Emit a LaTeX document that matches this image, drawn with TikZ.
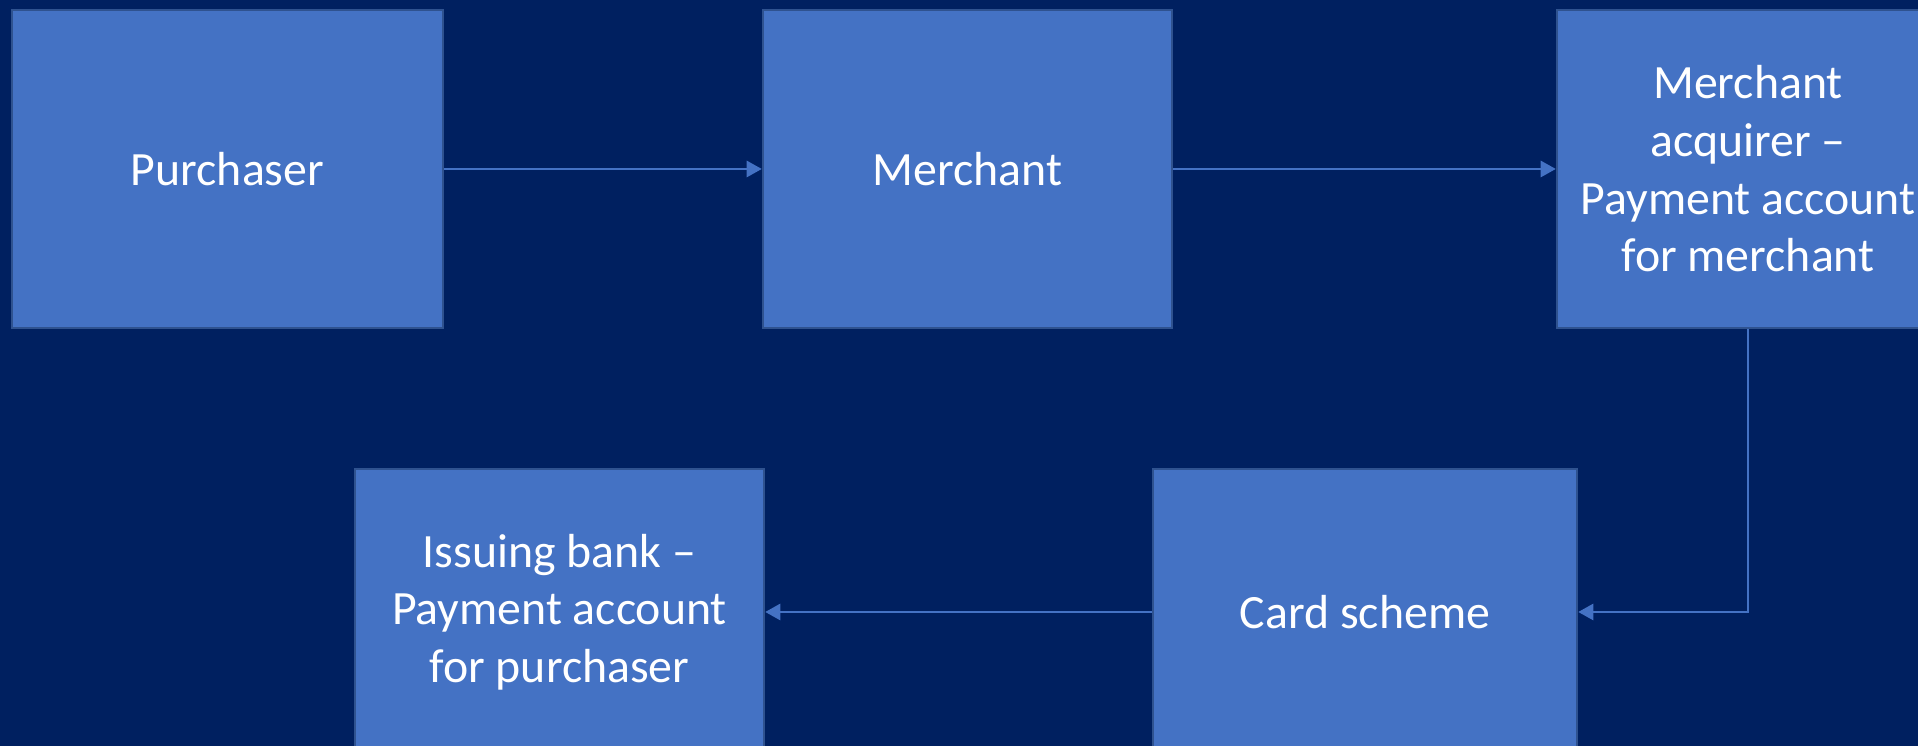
\documentclass[tikz,border=0pt]{standalone}
\usepackage{fontspec}
\setmainfont{Carlito}
\usetikzlibrary{arrows.meta}
\definecolor{navy}{HTML}{002060}
\definecolor{boxblue}{HTML}{4472C4}
\definecolor{boxline}{HTML}{2F528F}
\tikzset{
  box/.style={draw=boxline,line width=.7pt,fill=boxblue,text=white,inner sep=0pt,
    align=center,font=\fontsize{13.6}{16.4}\selectfont},
  link/.style={draw=boxblue,line width=.7pt,-{Triangle[length=4.3pt,width=4.6pt]}}
}
\begin{document}
\begin{tikzpicture}
    \useasboundingbox (0,0) rectangle (19.18,7.46);
    \clip (0,0) rectangle (19.18,7.46);
    \fill[navy] (0,0) rectangle (19.18,7.46);
    \node[box,minimum width=4.31cm,minimum height=3.18cm] (buyer) at (2.275,5.77) {Purchaser};
    \node[box,minimum width=4.09cm,minimum height=3.18cm] (shop) at (9.675,5.77) {Merchant};
    \node[box,minimum width=3.82cm,minimum height=3.18cm] (acq) at (17.48,5.77) {Merchant\\acquirer –\\Payment account\\for merchant};
    \node[box,minimum width=4.24cm,minimum height=2.86cm] (card) at (13.65,1.34) {Card scheme};
    \node[box,minimum width=4.09cm,minimum height=2.86cm] (issuer) at (5.595,1.34) {Issuing bank –\\Payment account\\for purchaser};
    \draw[link] (buyer)--(shop);
    \draw[link] (shop)--(acq);
    \draw[link] (acq.south) |- (card.east);
    \draw[link] (card)--(issuer);
  \end{tikzpicture}
\end{document}
